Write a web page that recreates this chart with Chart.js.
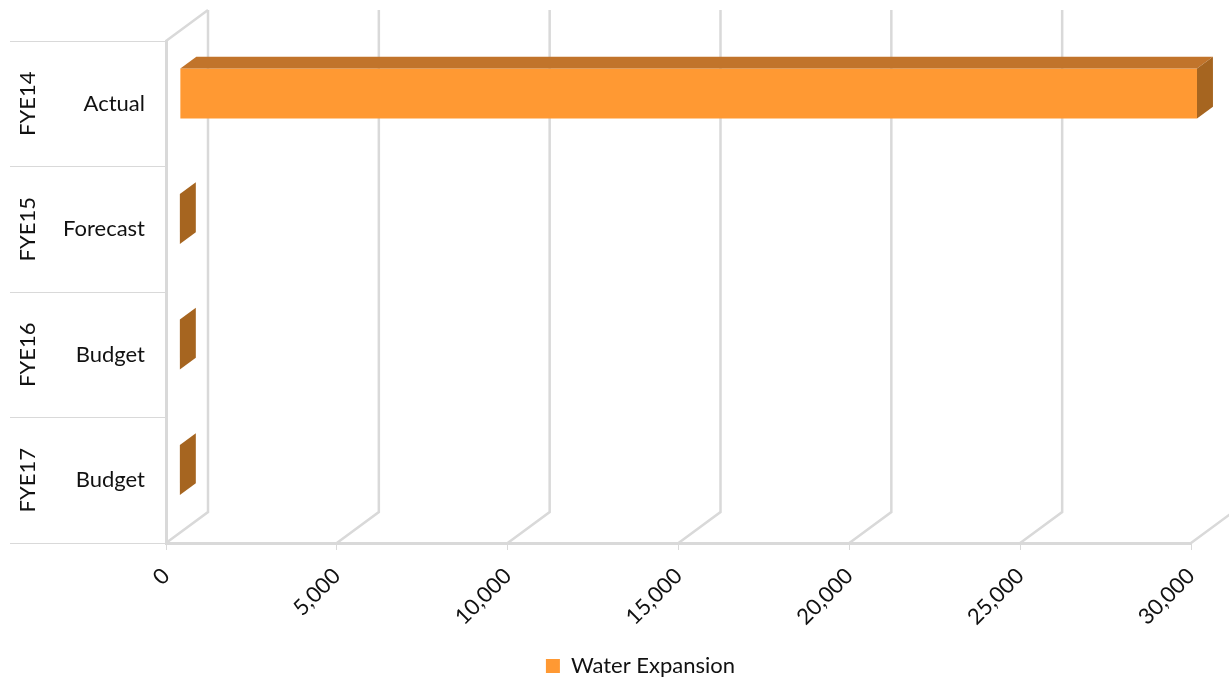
<!DOCTYPE html>
<html>
<head>
<meta charset="utf-8">
<script src="https://cdn.jsdelivr.net/npm/chart.js@4.4.0/dist/chart.umd.min.js"></script>
<style>
    html, body { margin: 0; padding: 0; background: #fff; }
    #wrap { width: 1229px; height: 679px; position: relative; }
</style>
</head>
<body>
<div id="wrap"><canvas id="myChart"></canvas></div>
<script>
// Data
const periods = ['FYE14', 'FYE15', 'FYE16', 'FYE17'];
const scenarios = ['Actual', 'Forecast', 'Budget', 'Budget'];
const waterExpansion = [29770, 0, 0, 0];
const xTicks = [0, 5000, 10000, 15000, 20000, 25000, 30000];

// 3D look
const depthX = 42, depthY = -31;       // offset of the back wall
const barFront = 0.33, barBack = 0.71; // where the bar sits inside the depth
const frontColor = '#FF9933';
const topColor = '#C1742B';
const sideColor = '#A66520';
const wallColor = '#D9D9D9';
const fontFamily = 'Lato, "Liberation Sans", sans-serif';

Chart.defaults.font.family = fontFamily;
Chart.defaults.font.size = 22;
Chart.defaults.color = '#111';

const depthPlugin = {
    id: 'depth',
    afterLayout(chart) {
        // legend sits a bit right of the canvas centre in the original
        chart.legend.left += 45;
        chart.legend.right += 45;
    },
    beforeDatasetsDraw(chart) {
        const ctx = chart.ctx;
        const area = chart.chartArea;
        const xs = chart.scales.x;
        ctx.save();
        ctx.strokeStyle = wallColor;
        ctx.lineWidth = 2.5;
        // top edge of the left wall
        ctx.beginPath();
        ctx.moveTo(area.left, area.top);
        ctx.lineTo(area.left + depthX, area.top + depthY);
        ctx.stroke();
        // floor diagonals + back wall gridlines
        xTicks.forEach(v => {
            const x = xs.getPixelForValue(v);
            ctx.beginPath();
            ctx.moveTo(x, area.bottom);
            ctx.lineTo(x + depthX, area.bottom + depthY);
            ctx.lineTo(x + depthX, area.top + depthY);
            ctx.stroke();
        });
        ctx.restore();
    },
    beforeDatasetDraw(chart) {
        chart.ctx.save();
        chart.ctx.translate(depthX * barFront, depthY * barFront);
    },
    afterDatasetDraw(chart, args) {
        const ctx = chart.ctx;
        const dx = depthX * (barBack - barFront);
        const dy = depthY * (barBack - barFront);
        args.meta.data.forEach(bar => {
            const p = bar.getProps(['x', 'y', 'base', 'height'], true);
            const top = p.y - p.height / 2;
            const bottom = p.y + p.height / 2;
            if (p.x > p.base) {
                ctx.fillStyle = topColor;
                ctx.beginPath();
                ctx.moveTo(p.base, top);
                ctx.lineTo(p.x, top);
                ctx.lineTo(p.x + dx, top + dy);
                ctx.lineTo(p.base + dx, top + dy);
                ctx.closePath();
                ctx.fill();
            }
            ctx.fillStyle = sideColor;
            ctx.beginPath();
            ctx.moveTo(p.x, top);
            ctx.lineTo(p.x + dx, top + dy);
            ctx.lineTo(p.x + dx, bottom + dy);
            ctx.lineTo(p.x, bottom);
            ctx.closePath();
            ctx.fill();
        });
        ctx.restore();
    },
    afterDraw(chart) {
        // outer category level (rotated)
        const ctx = chart.ctx;
        const ys = chart.scales.y;
        ctx.save();
        ctx.fillStyle = '#111';
        ctx.font = '22px ' + fontFamily;
        ctx.textAlign = 'center';
        ctx.textBaseline = 'middle';
        periods.forEach((p, i) => {
            ctx.save();
            ctx.translate(28, ys.getPixelForValue(i));
            ctx.rotate(-Math.PI / 2);
            ctx.fillText(p, 0, 0);
            ctx.restore();
        });
        ctx.restore();
    }
};

const ctx = document.getElementById('myChart').getContext('2d');
new Chart(ctx, {
    type: 'bar',
    data: {
        labels: scenarios,
        datasets: [{
            label: 'Water Expansion',
            data: waterExpansion,
            backgroundColor: frontColor,
            borderWidth: 0,
            barPercentage: 0.4,
            categoryPercentage: 1.0,
            clip: false
        }]
    },
    options: {
        indexAxis: 'y',
        responsive: true,
        maintainAspectRatio: false,
        animation: false,
        layout: {
            padding: { top: 41, right: 38, left: 0, bottom: -8 }
        },
        scales: {
            x: {
                min: 0,
                max: 30000,
                afterBuildTicks: s => { s.ticks = xTicks.map(v => ({ value: v })); },
                afterFit: s => { s.height = 108; },
                ticks: {
                    minRotation: 45,
                    maxRotation: 45,
                    padding: 13,
                    callback: v => v.toLocaleString('en-US')
                },
                grid: {
                    drawOnChartArea: false,
                    drawTicks: true,
                    tickLength: 7,
                    color: wallColor
                },
                border: { color: wallColor, width: 3 }
            },
            y: {
                afterFit: s => { s.width = 166; },
                ticks: { padding: -135 },
                grid: {
                    drawOnChartArea: false,
                    drawTicks: true,
                    tickLength: 156,
                    color: wallColor
                },
                border: { color: wallColor, width: 3 }
            }
        },
        plugins: {
            legend: {
                position: 'bottom',
                labels: {
                    boxWidth: 14,
                    boxHeight: 14,
                    padding: 4,
                    color: '#111'
                }
            },
            tooltip: { enabled: false }
        }
    },
    plugins: [depthPlugin]
});
</script>
</body>
</html>
